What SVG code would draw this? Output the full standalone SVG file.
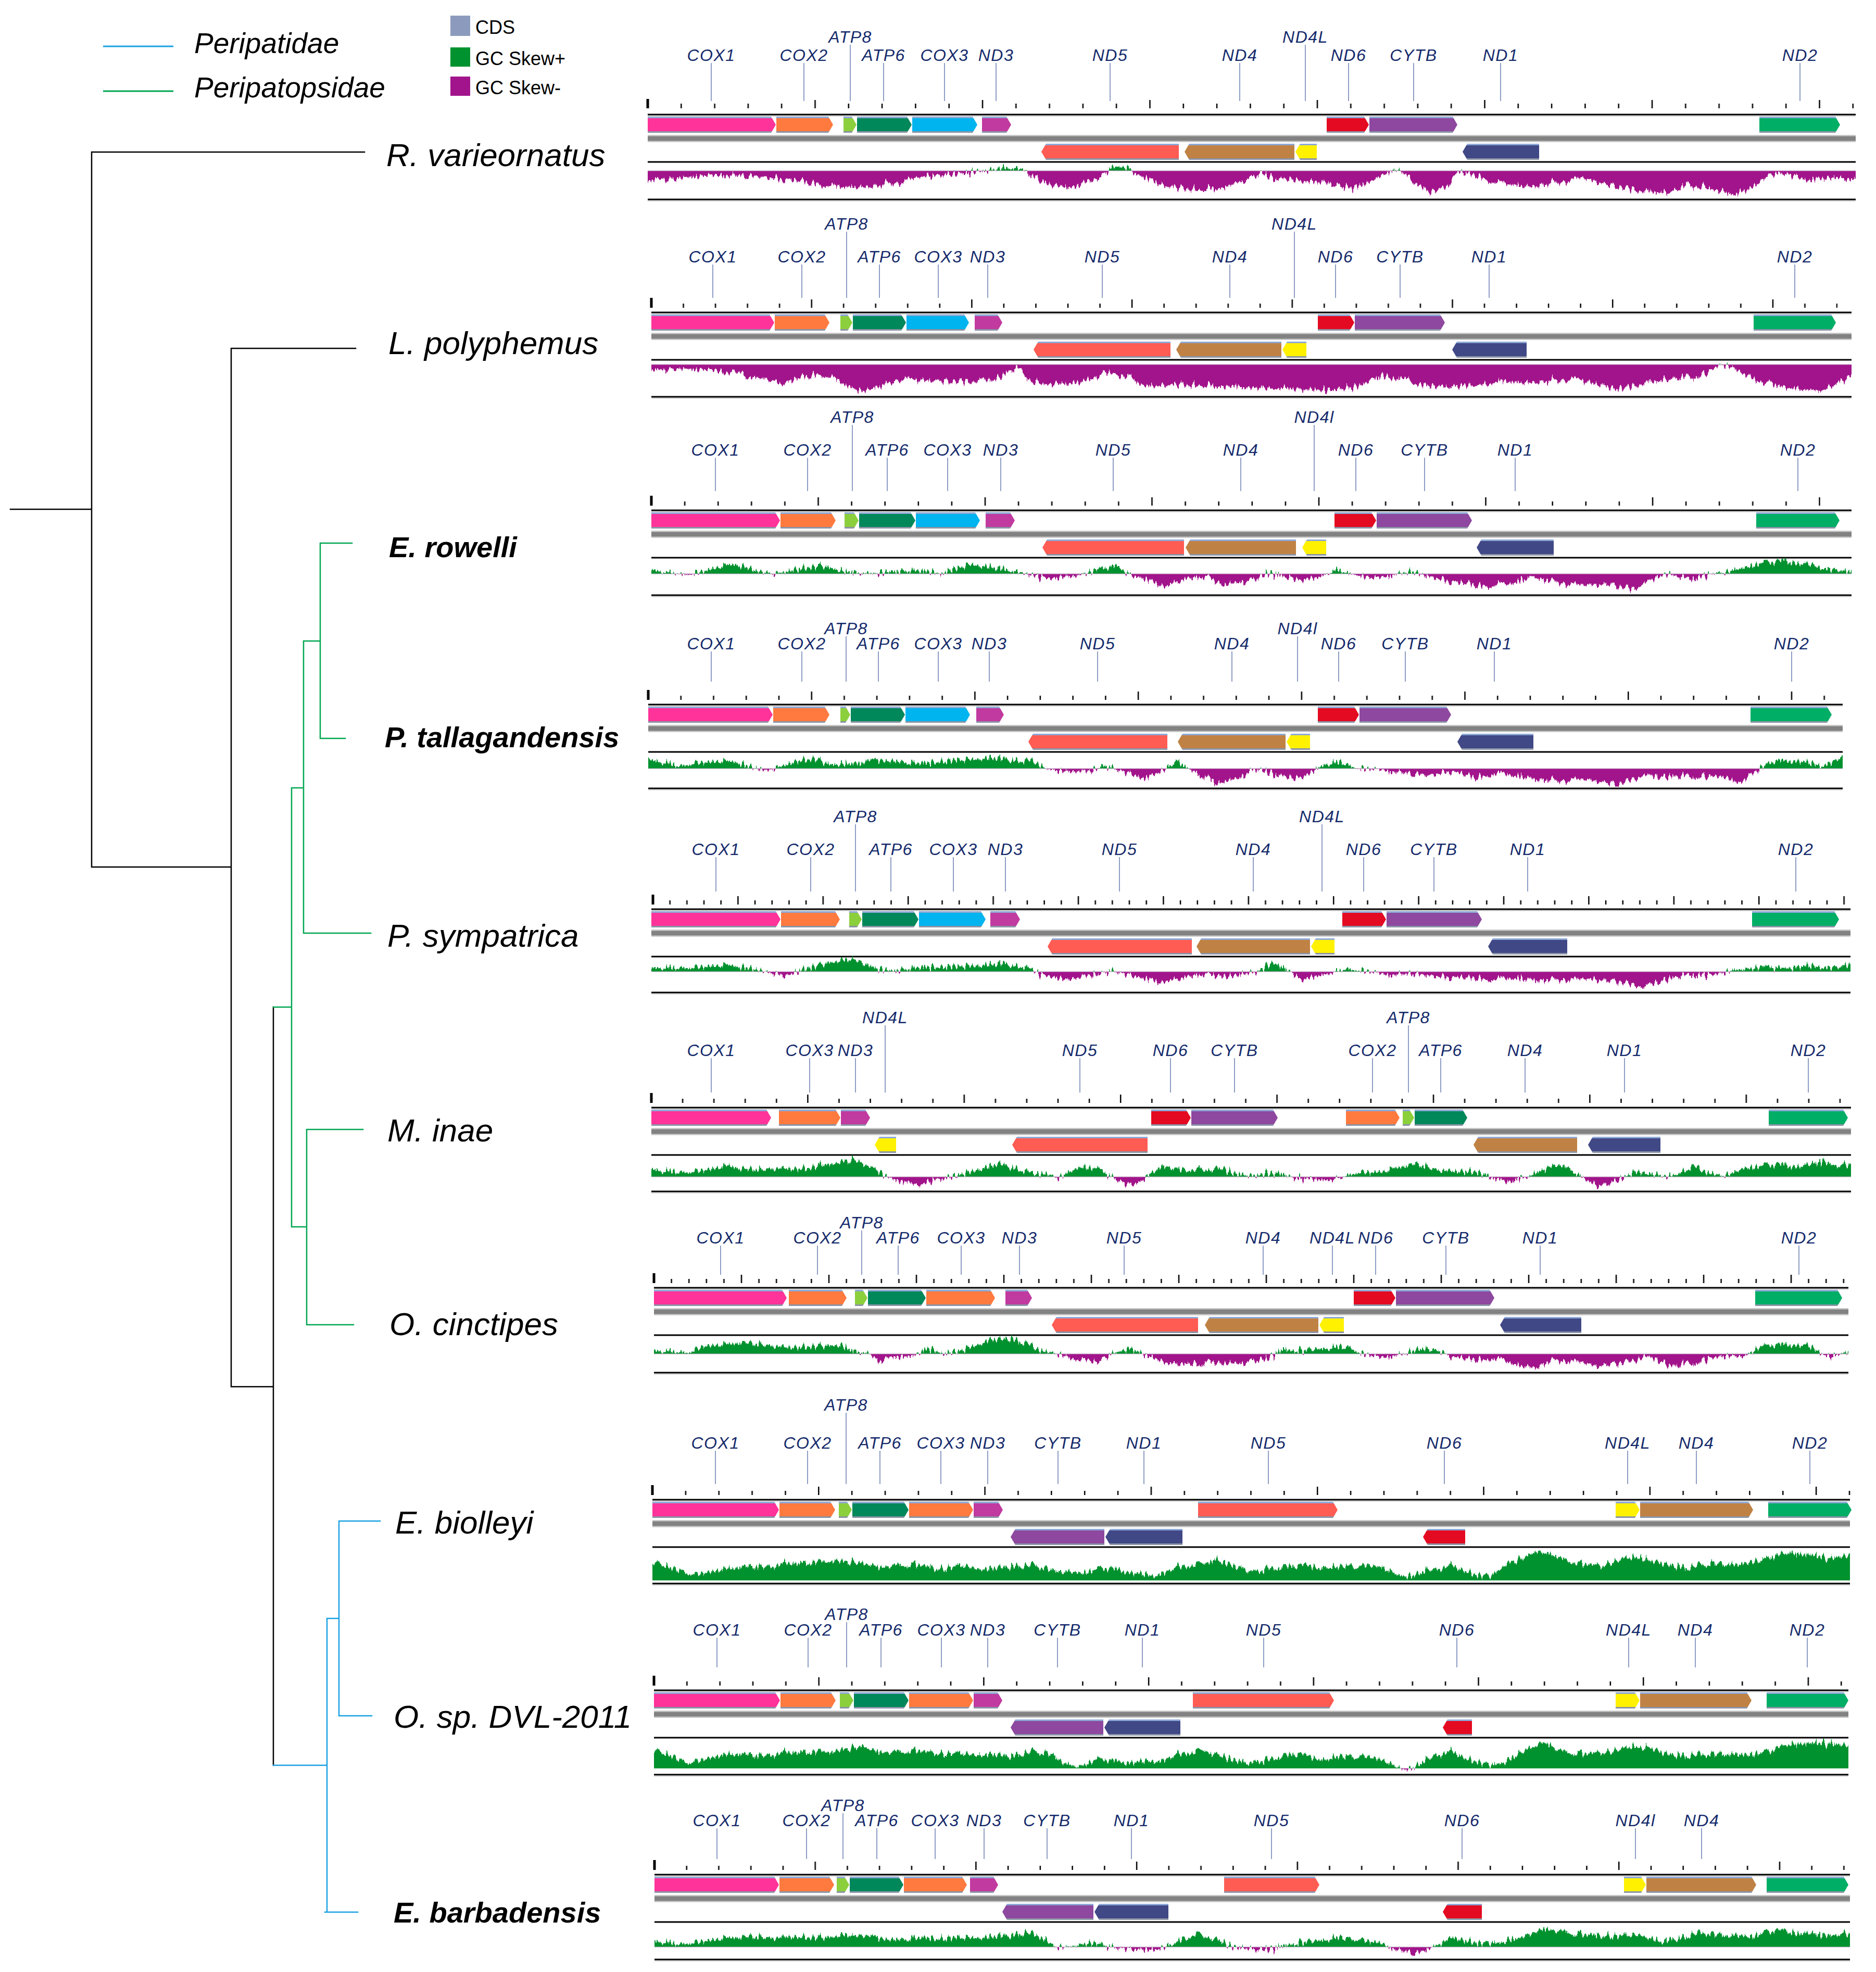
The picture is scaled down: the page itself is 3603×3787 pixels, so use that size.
<svg xmlns="http://www.w3.org/2000/svg" width="3603" height="3787" viewBox="0 0 3603 3787">
<style>
.gl{font-family:"Liberation Sans",Arial,sans-serif;font-style:italic;font-size:32px;fill:#142A6B;text-anchor:middle;letter-spacing:1.5px}
.sp{font-family:"Liberation Sans",Arial,sans-serif;font-style:italic;font-size:62px;fill:#000}
.spb{font-weight:bold;font-size:56px}
.lg{font-family:"Liberation Sans",Arial,sans-serif;font-size:36px;fill:#000}
.lgi{font-style:italic;font-size:55px}
.ll{fill:none;stroke:#8E9DC4;stroke-width:2}
.bk{fill:none;stroke:#000;stroke-width:3}
.gy{fill:none;stroke:#C8C8C8;stroke-width:1.5}
.bl{fill:none;stroke:#BFA6BF;stroke-width:1}
.lb{fill:#CACACA}.db{fill:#828282}
.pu{fill:#A2148B}
.c1{fill:url(#gC1)}.c2{fill:url(#gC2)}.a8{fill:url(#gA8)}.a6{fill:url(#gA6)}.c3{fill:url(#gC3)}.n3{fill:url(#gN3)}.n5{fill:url(#gN5)}.n4{fill:url(#gN4)}.nl{fill:url(#gNL)}.n6{fill:url(#gN6)}.cb{fill:url(#gCB)}.n1{fill:url(#gN1)}.n2{fill:url(#gN2)}
</style>
<defs>
<linearGradient id="gC1" x2="0" y2="1"><stop offset=".1" stop-color="#8EA9D7"/><stop offset=".1" stop-color="#FF3399"/><stop offset=".9" stop-color="#FF3399"/><stop offset=".9" stop-color="#8B94A6"/></linearGradient>
<linearGradient id="gC2" x2="0" y2="1"><stop offset=".1" stop-color="#8EA9D7"/><stop offset=".1" stop-color="#FF7A3F"/><stop offset=".9" stop-color="#FF7A3F"/><stop offset=".9" stop-color="#8B94A6"/></linearGradient>
<linearGradient id="gA8" x2="0" y2="1"><stop offset=".1" stop-color="#8EA9D7"/><stop offset=".1" stop-color="#8CCF3C"/><stop offset=".9" stop-color="#8CCF3C"/><stop offset=".9" stop-color="#8B94A6"/></linearGradient>
<linearGradient id="gA6" x2="0" y2="1"><stop offset=".1" stop-color="#8EA9D7"/><stop offset=".1" stop-color="#00875A"/><stop offset=".9" stop-color="#00875A"/><stop offset=".9" stop-color="#8B94A6"/></linearGradient>
<linearGradient id="gC3" x2="0" y2="1"><stop offset=".1" stop-color="#8EA9D7"/><stop offset=".1" stop-color="#00B4EF"/><stop offset=".9" stop-color="#00B4EF"/><stop offset=".9" stop-color="#8B94A6"/></linearGradient>
<linearGradient id="gN3" x2="0" y2="1"><stop offset=".1" stop-color="#8EA9D7"/><stop offset=".1" stop-color="#C13A9F"/><stop offset=".9" stop-color="#C13A9F"/><stop offset=".9" stop-color="#8B94A6"/></linearGradient>
<linearGradient id="gN5" x2="0" y2="1"><stop offset=".1" stop-color="#8EA9D7"/><stop offset=".1" stop-color="#FF5C54"/><stop offset=".9" stop-color="#FF5C54"/><stop offset=".9" stop-color="#8B94A6"/></linearGradient>
<linearGradient id="gN4" x2="0" y2="1"><stop offset=".1" stop-color="#8EA9D7"/><stop offset=".1" stop-color="#C08244"/><stop offset=".9" stop-color="#C08244"/><stop offset=".9" stop-color="#8B94A6"/></linearGradient>
<linearGradient id="gNL" x2="0" y2="1"><stop offset=".1" stop-color="#8EA9D7"/><stop offset=".1" stop-color="#FFF100"/><stop offset=".9" stop-color="#FFF100"/><stop offset=".9" stop-color="#8B94A6"/></linearGradient>
<linearGradient id="gN6" x2="0" y2="1"><stop offset=".1" stop-color="#8EA9D7"/><stop offset=".1" stop-color="#E30A21"/><stop offset=".9" stop-color="#E30A21"/><stop offset=".9" stop-color="#8B94A6"/></linearGradient>
<linearGradient id="gCB" x2="0" y2="1"><stop offset=".1" stop-color="#8EA9D7"/><stop offset=".1" stop-color="#8E489F"/><stop offset=".9" stop-color="#8E489F"/><stop offset=".9" stop-color="#8B94A6"/></linearGradient>
<linearGradient id="gN1" x2="0" y2="1"><stop offset=".1" stop-color="#8EA9D7"/><stop offset=".1" stop-color="#414886"/><stop offset=".9" stop-color="#414886"/><stop offset=".9" stop-color="#8B94A6"/></linearGradient>
<linearGradient id="gN2" x2="0" y2="1"><stop offset=".1" stop-color="#8EA9D7"/><stop offset=".1" stop-color="#00AE66"/><stop offset=".9" stop-color="#00AE66"/><stop offset=".9" stop-color="#8B94A6"/></linearGradient>
<clipPath id="ca"><rect x="0" y="-300" width="3603" height="300"/></clipPath>
<clipPath id="cb"><rect x="0" y="0" width="3603" height="64"/></clipPath>
<filter id="jag" x="-0.02" y="-0.4" width="1.04" height="1.8" color-interpolation-filters="sRGB">
<feTurbulence type="fractalNoise" baseFrequency="0.2 0.02" numOctaves="3" seed="7" result="n"/>
<feColorMatrix in="n" type="matrix" values="0 0 0 0 0.5  0 1 0 0 0  0 0 0 0 0  0 0 0 0 1" result="m"/>
<feDisplacementMap in="SourceGraphic" in2="m" scale="28" xChannelSelector="R" yChannelSelector="G"/>
</filter>
<pattern id="r1" patternUnits="userSpaceOnUse" x="1242.75" y="192" width="321.5" height="16"><path d="M1.25,0V16M65.55,7V16M129.85,7V16M194.15,7V16M258.45,7V16" stroke="#000" stroke-width="2.5"/></pattern>
<pattern id="r2" patternUnits="userSpaceOnUse" x="1249.75" y="575" width="307.7" height="16"><path d="M1.25,0V16M62.79,8V16M124.33,8V16M185.87,8V16M247.41,8V16" stroke="#000" stroke-width="2.5"/></pattern>
<pattern id="r3" patternUnits="userSpaceOnUse" x="1249.75" y="955" width="320.5" height="16"><path d="M1.25,0V16M65.35,8V16M129.45,8V16M193.55,8V16M257.65,8V16" stroke="#000" stroke-width="2.5"/></pattern>
<pattern id="r4" patternUnits="userSpaceOnUse" x="1243.75" y="1328" width="313.7" height="16"><path d="M1.25,0V16M63.99,8V16M126.73,8V16M189.47,8V16M252.21,8V16" stroke="#000" stroke-width="2.5"/></pattern>
<pattern id="r5" patternUnits="userSpaceOnUse" x="1252.75" y="1721" width="163.4" height="16"><path d="M1.25,0V16M33.93,8V16M66.61,8V16M99.29,8V16M131.97,8V16" stroke="#000" stroke-width="2.5"/></pattern>
<pattern id="r6" patternUnits="userSpaceOnUse" x="1249.75" y="2102" width="300.4" height="16"><path d="M1.25,0V16M61.33,8V16M121.41,8V16M181.49,8V16M241.57,8V16" stroke="#000" stroke-width="2.5"/></pattern>
<pattern id="r7" patternUnits="userSpaceOnUse" x="1254.75" y="2448" width="168" height="16"><path d="M1.25,0V16M34.85,8V16M68.45,8V16M102.05,8V16M135.65,8V16" stroke="#000" stroke-width="2.5"/></pattern>
<pattern id="r8" patternUnits="userSpaceOnUse" x="1251.75" y="2855" width="319.3" height="16"><path d="M1.25,0V16M65.11,8V16M128.97,8V16M192.83,8V16M256.69,8V16" stroke="#000" stroke-width="2.5"/></pattern>
<pattern id="r9" patternUnits="userSpaceOnUse" x="1254.75" y="3221" width="316.7" height="16"><path d="M1.25,0V16M64.59,8V16M127.93,8V16M191.27,8V16M254.61,8V16" stroke="#000" stroke-width="2.5"/></pattern>
<pattern id="r10" patternUnits="userSpaceOnUse" x="1255.75" y="3575" width="308.7" height="16"><path d="M1.25,0V16M62.99,8V16M124.73,8V16M186.47,8V16M248.21,8V16" stroke="#000" stroke-width="2.5"/></pattern>
<path id="s1" d="M1244,22 L1261,17 1307,17 1337,13 1383,8 1460,12 1521,18 1574,27 1605,33 1636,30 1689,27 1727,23 1766,12 1811,7 1842,5 1896,0 1915,-4 1934,-6 1955,-5 1968,-3 1976,5 1995,17 2033,32 2064,32 2095,18 2121,5 2135,-5 2148,-7 2165,-8 2179,4 2209,18 2248,32 2286,35 2324,35 2362,28 2401,15 2423,3 2446,12 2492,18 2553,25 2599,35 2630,25 2661,5 2676,-2 2692,2 2722,25 2745,45 2776,32 2799,2 2830,8 2876,25 2937,28 2998,22 3037,13 3091,28 3152,40 3206,42 3244,25 3282,32 3328,47 3367,32 3390,8 3428,5 3474,18 3520,13 3564,17 L3564,70 1244,70Z"/>
<path id="s2" d="M1251,12 L1291,10 1366,12 1412,15 1457,29 1502,36 1548,24 1578,19 1623,39 1654,52 1684,44 1729,29 1805,32 1866,34 1911,29 1941,12 1956,7 1987,34 2032,39 2077,34 2123,15 2168,24 2199,41 2289,39 2380,44 2471,46 2547,50 2607,44 2652,22 2698,29 2743,44 2819,41 2895,34 2970,32 3031,29 3107,48 3152,39 3197,29 3273,19 3306,-1 3333,10 3379,34 3455,48 3500,50 3545,29 3556,20 L3556,70 1251,70Z"/>
<path id="s3" d="M1251,-9 L1275,-4 1321,3 1381,-14 1412,-19 1457,-4 1487,0 1533,-9 1578,-16 1623,-4 1669,0 1714,-4 1760,-7 1805,0 1835,-9 1866,-19 1911,-12 1956,-4 2017,10 2062,5 2108,-7 2146,-14 2168,0 2214,15 2236,25 2274,10 2320,5 2350,20 2395,15 2441,-2 2486,10 2531,8 2569,-9 2592,0 2637,10 2683,0 2713,-4 2743,5 2789,15 2849,25 2895,20 2940,5 2985,15 3031,22 3091,20 3137,30 3167,15 3197,0 3243,10 3288,0 3318,-4 3379,-19 3424,-24 3470,-19 3515,-9 3556,-4 L3556,70 1251,70Z"/>
<path id="s4" d="M1245,-20 L1275,-13 1306,-5 1336,-13 1381,-15 1412,-13 1442,-3 1472,4 1502,-5 1533,-15 1563,-20 1593,-8 1623,-8 1654,-10 1684,-15 1729,-13 1775,-10 1835,-15 1896,-22 1941,-17 1987,-13 2009,0 2047,7 2093,4 2123,-5 2153,4 2199,19 2229,7 2259,-13 2289,4 2335,26 2380,19 2410,0 2441,7 2486,19 2516,9 2547,-10 2577,-13 2607,0 2652,2 2698,9 2743,14 2789,4 2834,19 2880,9 2925,14 2985,24 3046,21 3107,31 3152,14 3197,16 3258,14 3303,16 3341,29 3379,0 3409,-13 3455,-15 3500,-5 3539,-22 L3539,70 1245,70Z"/>
<path id="s5" d="M1251,-8 L1306,-8 1351,-11 1396,-13 1442,-6 1487,4 1518,6 1548,-6 1593,-18 1639,-23 1669,-8 1714,-1 1760,-8 1805,-8 1866,-11 1926,-16 1972,-8 2002,6 2047,18 2093,6 2138,-1 2183,9 2229,21 2274,11 2320,4 2365,9 2410,1 2448,-16 2471,-3 2501,14 2547,6 2584,-6 2622,-1 2668,6 2713,4 2758,9 2804,11 2864,16 2910,11 2970,16 3046,14 3107,18 3159,31 3197,16 3243,6 3288,6 3333,-3 3379,-8 3424,-6 3470,-11 3515,-8 3554,-11 L3554,70 1251,70Z"/>
<path id="s6" d="M1251,-17 L1276,-12 1307,-10 1337,-13 1368,-17 1398,-22 1429,-15 1460,-13 1490,-17 1521,-15 1551,-17 1582,-23 1613,-28 1643,-32 1666,-17 1689,-10 1701,0 1727,7 1766,17 1796,5 1827,0 1857,-7 1888,-18 1919,-25 1949,-17 1980,-7 2010,-5 2033,2 2056,-10 2079,-20 2110,-13 2140,3 2171,17 2194,7 2217,-13 2232,-23 2263,-12 2301,-13 2339,-15 2378,-5 2400,-2 2431,-5 2454,-7 2484,2 2515,3 2546,8 2576,2 2607,-10 2653,-10 2692,-20 2722,-25 2761,-13 2799,-10 2837,-10 2860,0 2891,10 2922,2 2952,-5 2983,-23 3014,-17 3037,0 3067,17 3098,10 3121,0 3144,-10 3175,-5 3206,0 3229,-10 3252,-20 3282,-7 3305,-2 3328,-7 3351,-17 3382,-20 3413,-23 3443,-20 3474,-23 3505,-32 3528,-20 3555,-20 L3555,70 1251,70Z"/>
<path id="s7" d="M1256,-7 L1291,-5 1321,-2 1351,-17 1396,-19 1427,-22 1472,-17 1518,-12 1563,-15 1608,-17 1639,-5 1669,0 1692,15 1714,5 1752,5 1782,-10 1813,0 1850,-7 1896,-27 1941,-29 1972,-19 2002,-5 2032,0 2062,12 2108,12 2138,0 2168,-12 2199,2 2244,19 2289,19 2335,15 2380,19 2426,10 2463,-7 2501,-5 2547,-12 2592,-15 2615,0 2652,7 2698,0 2728,-10 2766,-5 2789,5 2834,12 2880,10 2910,19 2948,24 2985,12 3031,15 3069,24 3122,15 3167,5 3212,24 3258,15 3303,5 3349,5 3379,-12 3424,-17 3470,-17 3500,0 3515,7 3550,-5 L3550,70 1256,70Z"/>
<path id="s8" d="M1253,-38 L1291,-23 1336,-14 1381,-21 1427,-26 1472,-28 1518,-33 1563,-35 1608,-38 1654,-33 1684,-23 1714,-28 1760,-31 1805,-21 1850,-28 1896,-23 1941,-26 1987,-28 2032,-18 2077,-14 2123,-23 2168,-16 2214,-9 2259,-23 2304,-33 2335,-40 2365,-28 2410,-18 2441,-21 2486,-28 2531,-26 2577,-26 2622,-33 2652,-28 2683,-10 2713,-8 2743,-21 2789,-28 2834,-11 2864,-9 2895,-33 2925,-43 2955,-57 2985,-47 3031,-33 3076,-28 3122,-43 3152,-45 3197,-31 3243,-23 3288,-33 3333,-28 3379,-38 3424,-52 3470,-50 3515,-43 3553,-48 L3553,70 1253,70Z"/>
<path id="s9" d="M1256,-37 L1291,-23 1321,-13 1366,-23 1412,-28 1457,-25 1502,-30 1548,-32 1593,-32 1639,-40 1661,-42 1684,-30 1729,-32 1760,-35 1805,-28 1850,-28 1896,-28 1941,-23 1987,-32 2017,-28 2047,-9 2070,-3 2108,-16 2168,-11 2229,-16 2274,-28 2312,-37 2350,-20 2395,-11 2441,-16 2486,-28 2531,-18 2577,-23 2622,-28 2660,-16 2683,-1 2706,3 2728,-9 2758,-28 2789,-32 2819,-18 2864,-6 2895,-13 2925,-32 2963,-51 3001,-32 3046,-28 3091,-32 3137,-42 3167,-42 3197,-28 3243,-23 3288,-28 3349,-25 3394,-32 3439,-47 3500,-49 3550,-44 L3550,70 1256,70Z"/>
<path id="s10" d="M1257,-13 L1306,-6 1351,-13 1396,-18 1442,-20 1487,-18 1533,-20 1578,-18 1623,-22 1669,-18 1714,-13 1760,-18 1805,-15 1850,-18 1896,-20 1941,-22 1972,-27 2002,-18 2025,-1 2047,1 2093,-8 2138,1 2183,4 2221,6 2259,-8 2297,-25 2327,-18 2357,-3 2395,4 2433,4 2471,-3 2516,-10 2562,-18 2607,-18 2652,-8 2683,6 2721,13 2751,1 2789,-18 2834,-8 2880,-8 2925,-18 2970,-34 3016,-27 3061,-22 3107,-20 3152,-25 3190,-10 3228,-18 3273,-27 3318,-22 3364,-20 3409,-32 3455,-27 3500,-25 3553,-22 L3553,70 1257,70Z"/>
</defs>
<rect width="3603" height="3787" fill="#fff"/>

<g id="legend">
<path d="M198,89H333" stroke="#1BA1E2" stroke-width="3"/>
<path d="M198,175H333" stroke="#00A651" stroke-width="3"/>
<text class="lg lgi" x="373" y="102">Peripatidae</text>
<text class="lg lgi" x="373" y="187">Peripatopsidae</text>
<rect x="865" y="30" width="38" height="39" fill="#8C9BBD"/>
<rect x="865" y="91" width="38" height="37" fill="#00922F"/>
<rect x="865" y="147" width="38" height="37" fill="#A2148B"/>
<text class="lg" x="913" y="65">CDS</text>
<text class="lg" x="913" y="125">GC Skew+</text>
<text class="lg" x="913" y="181">GC Skew-</text>
</g>

<g id="tree" fill="none" stroke-width="2.5" stroke-linecap="square">
<path stroke="#000" d="M20,978H176M176,292V1665M176,292H700M176,1665H444M444,669V2663M444,669H683M444,2663H525M525,1934V3390"/>
<path stroke="#00A651" d="M525,1934H560M560,1513V2356M560,1513H583M583,1231V1792M583,1231H615M615,1043V1418M615,1043H676M615,1418H663M583,1792H712M560,2356H589M589,2169V2544M589,2169H697M589,2544H679"/>
<path stroke="#1BA1E2" d="M525,3390H628M628,3108V3672M628,3108H651M651,2921V3295M651,2921H730M651,3295H714M624,3672H687"/>
</g>

<g id="n-rvarieornatus">
<text class="sp" x="742" y="319">R. varieornatus</text>
<g>
<text class="gl" x="1366" y="117">COX1</text><text class="gl" x="1544" y="117">COX2</text><text class="gl" x="1633" y="82">ATP8</text><text class="gl" x="1697" y="117">ATP6</text><text class="gl" x="1814" y="117">COX3</text><text class="gl" x="1913" y="117">ND3</text><text class="gl" x="2132" y="117">ND5</text><text class="gl" x="2381" y="117">ND4</text><text class="gl" x="2507" y="82">ND4L</text><text class="gl" x="2590" y="117">ND6</text><text class="gl" x="2715" y="117">CYTB</text><text class="gl" x="2882" y="117">ND1</text><text class="gl" x="3457" y="117">ND2</text>
</g>
<path class="ll" d="M1366,121V194M1544,121V194M1633,86V194M1697,121V194M1814,121V194M1913,121V194M2132,121V194M2381,121V194M2507,86V194M2590,121V194M2715,121V194M2882,121V194M3457,121V194"/>
<rect x="1242.75" y="192" width="2317.5" height="16" fill="url(#r1)"/>
<rect x="1241.5" y="190" width="5" height="18"/>
<g transform="translate(0,220)">
<path class="bk" d="M1244,0H3564"/><path class="gy" d="M1244,2.8H3564"/>
<rect class="lb" x="1244" y="39" width="2320" height="14"/><rect class="db" x="1244" y="41.5" width="2320" height="9"/>
<polygon class="c1" points="1244,4 1481,4 1490,19.5 1481,35 1244,35"/>
<polygon class="c2" points="1491,4 1591,4 1600,19.5 1591,35 1491,35"/>
<polygon class="a8" points="1620,4 1636,4 1645,19.5 1636,35 1620,35"/>
<polygon class="a6" points="1646,4 1742,4 1751,19.5 1742,35 1646,35"/>
<polygon class="c3" points="1752,4 1868,4 1877,19.5 1868,35 1752,35"/>
<polygon class="n3" points="1886,4 1933,4 1942,19.5 1933,35 1886,35"/>
<polygon class="n5" points="2000,71.5 2009,56 2264,56 2264,87 2009,87"/>
<polygon class="n4" points="2275,71.5 2284,56 2486,56 2486,87 2284,87"/>
<polygon class="nl" points="2488,71.5 2497,56 2529,56 2529,87 2497,87"/>
<polygon class="n6" points="2548,4 2620,4 2629,19.5 2620,35 2548,35"/>
<polygon class="cb" points="2630,4 2790,4 2799,19.5 2790,35 2630,35"/>
<polygon class="n1" points="2809,71.5 2818,56 2956,56 2956,87 2818,87"/>
<polygon class="n2" points="3379,4 3525,4 3534,19.5 3525,35 3379,35"/>
<path class="bk" d="M1244,91H3564"/>
</g>
<g transform="translate(0,328)">
<rect class="pu" x="1244" y="0" width="2320" height="52"/>
<use href="#s1" fill="#fff" filter="url(#jag)" clip-path="url(#cb)"/>
<use href="#s1" fill="#00922F" filter="url(#jag)" clip-path="url(#ca)"/>
<path class="bl" d="M1244,0H3564"/>
<path class="bk" d="M1244,55H3564"/><path class="gy" d="M1244,57.8H3564"/>
</g>
</g>

<g id="n-lpolyphemus">
<text class="sp" x="746" y="680">L. polyphemus</text>
<g>
<text class="gl" x="1369" y="504">COX1</text><text class="gl" x="1540" y="504">COX2</text><text class="gl" x="1626" y="441">ATP8</text><text class="gl" x="1689" y="504">ATP6</text><text class="gl" x="1802" y="504">COX3</text><text class="gl" x="1897" y="504">ND3</text><text class="gl" x="2117" y="504">ND5</text><text class="gl" x="2362" y="504">ND4</text><text class="gl" x="2486" y="441">ND4L</text><text class="gl" x="2565" y="504">ND6</text><text class="gl" x="2689" y="504">CYTB</text><text class="gl" x="2860" y="504">ND1</text><text class="gl" x="3447" y="504">ND2</text>
</g>
<path class="ll" d="M1369,508V572M1540,508V572M1626,445V572M1689,508V572M1802,508V572M1897,508V572M2117,508V572M2362,508V572M2486,445V572M2565,508V572M2689,508V572M2860,508V572M3447,508V572"/>
<rect x="1249.75" y="575" width="2279.5" height="16" fill="url(#r2)"/>
<rect x="1248.5" y="572" width="5" height="19"/>
<g transform="translate(0,600)">
<path class="bk" d="M1251,0H3556"/><path class="gy" d="M1251,2.8H3556"/>
<rect class="lb" x="1251" y="39" width="2305" height="14"/><rect class="db" x="1251" y="41.5" width="2305" height="9"/>
<polygon class="c1" points="1251,4 1478,4 1487,19.5 1478,35 1251,35"/>
<polygon class="c2" points="1488,4 1584,4 1593,19.5 1584,35 1488,35"/>
<polygon class="a8" points="1614,4 1628,4 1637,19.5 1628,35 1614,35"/>
<polygon class="a6" points="1638,4 1731,4 1740,19.5 1731,35 1638,35"/>
<polygon class="c3" points="1741,4 1852,4 1861,19.5 1852,35 1741,35"/>
<polygon class="n3" points="1872,4 1916,4 1925,19.5 1916,35 1872,35"/>
<polygon class="n5" points="1985,71.5 1994,56 2248,56 2248,87 1994,87"/>
<polygon class="n4" points="2259,71.5 2268,56 2461,56 2461,87 2268,87"/>
<polygon class="nl" points="2463,71.5 2472,56 2509,56 2509,87 2472,87"/>
<polygon class="n6" points="2531,4 2592,4 2601,19.5 2592,35 2531,35"/>
<polygon class="cb" points="2602,4 2766,4 2775,19.5 2766,35 2602,35"/>
<polygon class="n1" points="2789,71.5 2798,56 2932,56 2932,87 2798,87"/>
<polygon class="n2" points="3368,4 3517,4 3526,19.5 3517,35 3368,35"/>
<path class="bk" d="M1251,91H3556"/>
</g>
<g transform="translate(0,700)">
<rect class="pu" x="1251" y="0" width="2305" height="59"/>
<use href="#s2" fill="#fff" filter="url(#jag)" clip-path="url(#cb)"/>
<use href="#s2" fill="#00922F" filter="url(#jag)" clip-path="url(#ca)"/>
<path class="bl" d="M1251,0H3556"/>
<path class="bk" d="M1251,62H3556"/><path class="gy" d="M1251,64.8H3556"/>
</g>
</g>

<g id="n-erowelli">
<text class="sp spb" x="747" y="1070">E. rowelli</text>
<g>
<text class="gl" x="1374" y="875">COX1</text><text class="gl" x="1551" y="875">COX2</text><text class="gl" x="1637" y="812">ATP8</text><text class="gl" x="1704" y="875">ATP6</text><text class="gl" x="1820" y="875">COX3</text><text class="gl" x="1922" y="875">ND3</text><text class="gl" x="2138" y="875">ND5</text><text class="gl" x="2383" y="875">ND4</text><text class="gl" x="2524" y="812">ND4l</text><text class="gl" x="2604" y="875">ND6</text><text class="gl" x="2736" y="875">CYTB</text><text class="gl" x="2910" y="875">ND1</text><text class="gl" x="3453" y="875">ND2</text>
</g>
<path class="ll" d="M1374,879V943M1551,879V943M1637,816V943M1704,879V943M1820,879V943M1922,879V943M2138,879V943M2383,879V943M2524,816V943M2604,879V943M2736,879V943M2910,879V943M3453,879V943"/>
<rect x="1249.75" y="955" width="2246.5" height="16" fill="url(#r3)"/>
<rect x="1248.5" y="952" width="5" height="19"/>
<g transform="translate(0,980)">
<path class="bk" d="M1251,0H3556"/><path class="gy" d="M1251,2.8H3556"/>
<rect class="lb" x="1251" y="39" width="2305" height="14"/><rect class="db" x="1251" y="41.5" width="2305" height="9"/>
<polygon class="c1" points="1251,4 1489,4 1498,19.5 1489,35 1251,35"/>
<polygon class="c2" points="1499,4 1596,4 1605,19.5 1596,35 1499,35"/>
<polygon class="a8" points="1622,4 1640,4 1649,19.5 1640,35 1622,35"/>
<polygon class="a6" points="1650,4 1749,4 1758,19.5 1749,35 1650,35"/>
<polygon class="c3" points="1759,4 1873,4 1882,19.5 1873,35 1759,35"/>
<polygon class="n3" points="1893,4 1940,4 1949,19.5 1940,35 1893,35"/>
<polygon class="n5" points="2002,71.5 2011,56 2274,56 2274,87 2011,87"/>
<polygon class="n4" points="2277,71.5 2286,56 2489,56 2489,87 2286,87"/>
<polygon class="nl" points="2501,71.5 2510,56 2547,56 2547,87 2510,87"/>
<polygon class="n6" points="2563,4 2634,4 2643,19.5 2634,35 2563,35"/>
<polygon class="cb" points="2644,4 2818,4 2827,19.5 2818,35 2644,35"/>
<polygon class="n1" points="2836,71.5 2845,56 2984,56 2984,87 2845,87"/>
<polygon class="n2" points="3373,4 3524,4 3533,19.5 3524,35 3373,35"/>
<path class="bk" d="M1251,91H3556"/>
</g>
<g transform="translate(0,1102)">
<rect class="pu" x="1251" y="0" width="2305" height="38"/>
<use href="#s3" fill="#fff" filter="url(#jag)" clip-path="url(#cb)"/>
<use href="#s3" fill="#00922F" filter="url(#jag)" clip-path="url(#ca)"/>
<path class="bl" d="M1251,0H3556"/>
<path class="bk" d="M1251,41H3556"/><path class="gy" d="M1251,43.8H3556"/>
</g>
</g>

<g id="n-ptallagandensis">
<text class="sp spb" x="739" y="1435">P. tallagandensis</text>
<g>
<text class="gl" x="1366" y="1247">COX1</text><text class="gl" x="1540" y="1247">COX2</text><text class="gl" x="1625" y="1218">ATP8</text><text class="gl" x="1687" y="1247">ATP6</text><text class="gl" x="1802" y="1247">COX3</text><text class="gl" x="1900" y="1247">ND3</text><text class="gl" x="2108" y="1247">ND5</text><text class="gl" x="2366" y="1247">ND4</text><text class="gl" x="2492" y="1218">ND4l</text><text class="gl" x="2571" y="1247">ND6</text><text class="gl" x="2699" y="1247">CYTB</text><text class="gl" x="2870" y="1247">ND1</text><text class="gl" x="3441" y="1247">ND2</text>
</g>
<path class="ll" d="M1366,1251V1309M1540,1251V1309M1625,1222V1309M1687,1251V1309M1802,1251V1309M1900,1251V1309M2108,1251V1309M2366,1251V1309M2492,1222V1309M2571,1251V1309M2699,1251V1309M2870,1251V1309M3441,1251V1309"/>
<rect x="1243.75" y="1328" width="2264.5" height="16" fill="url(#r4)"/>
<rect x="1242.5" y="1325" width="5" height="19"/>
<g transform="translate(0,1353)">
<path class="bk" d="M1245,0H3539"/><path class="gy" d="M1245,2.8H3539"/>
<rect class="lb" x="1245" y="39" width="2294" height="14"/><rect class="db" x="1245" y="41.5" width="2294" height="9"/>
<polygon class="c1" points="1245,4 1475,4 1484,19.5 1475,35 1245,35"/>
<polygon class="c2" points="1485,4 1584,4 1593,19.5 1584,35 1485,35"/>
<polygon class="a8" points="1614,4 1624,4 1633,19.5 1624,35 1614,35"/>
<polygon class="a6" points="1634,4 1729,4 1738,19.5 1729,35 1634,35"/>
<polygon class="c3" points="1739,4 1854,4 1863,19.5 1854,35 1739,35"/>
<polygon class="n3" points="1875,4 1919,4 1928,19.5 1919,35 1875,35"/>
<polygon class="n5" points="1975,71.5 1984,56 2242,56 2242,87 1984,87"/>
<polygon class="n4" points="2262,71.5 2271,56 2469,56 2469,87 2271,87"/>
<polygon class="nl" points="2471,71.5 2480,56 2516,56 2516,87 2480,87"/>
<polygon class="n6" points="2531,4 2601,4 2610,19.5 2601,35 2531,35"/>
<polygon class="cb" points="2611,4 2778,4 2787,19.5 2778,35 2611,35"/>
<polygon class="n1" points="2799,71.5 2808,56 2945,56 2945,87 2808,87"/>
<polygon class="n2" points="3362,4 3509,4 3518,19.5 3509,35 3362,35"/>
<path class="bk" d="M1245,91H3539"/>
</g>
<g transform="translate(0,1476)">
<rect class="pu" x="1245" y="0" width="2294" height="35"/>
<use href="#s4" fill="#fff" filter="url(#jag)" clip-path="url(#cb)"/>
<use href="#s4" fill="#00922F" filter="url(#jag)" clip-path="url(#ca)"/>
<path class="bl" d="M1245,0H3539"/>
<path class="bk" d="M1245,38H3539"/><path class="gy" d="M1245,40.8H3539"/>
</g>
</g>

<g id="n-psympatrica">
<text class="sp" x="744" y="1818">P. sympatrica</text>
<g>
<text class="gl" x="1375" y="1642">COX1</text><text class="gl" x="1557" y="1642">COX2</text><text class="gl" x="1643" y="1579">ATP8</text><text class="gl" x="1711" y="1642">ATP6</text><text class="gl" x="1831" y="1642">COX3</text><text class="gl" x="1931" y="1642">ND3</text><text class="gl" x="2150" y="1642">ND5</text><text class="gl" x="2407" y="1642">ND4</text><text class="gl" x="2539" y="1579">ND4L</text><text class="gl" x="2619" y="1642">ND6</text><text class="gl" x="2754" y="1642">CYTB</text><text class="gl" x="2934" y="1642">ND1</text><text class="gl" x="3449" y="1642">ND2</text>
</g>
<path class="ll" d="M1375,1646V1712M1557,1646V1712M1643,1583V1712M1711,1646V1712M1831,1646V1712M1931,1646V1712M2150,1646V1712M2407,1646V1712M2539,1583V1712M2619,1646V1712M2754,1646V1712M2934,1646V1712M3449,1646V1712"/>
<rect x="1252.75" y="1721" width="2291.5" height="16" fill="url(#r5)"/>
<rect x="1251.5" y="1718" width="5" height="19"/>
<g transform="translate(0,1746)">
<path class="bk" d="M1251,0H3554"/><path class="gy" d="M1251,2.8H3554"/>
<rect class="lb" x="1251" y="39" width="2303" height="14"/><rect class="db" x="1251" y="41.5" width="2303" height="9"/>
<polygon class="c1" points="1251,4 1490,4 1499,19.5 1490,35 1251,35"/>
<polygon class="c2" points="1500,4 1604,4 1613,19.5 1604,35 1500,35"/>
<polygon class="a8" points="1631,4 1646,4 1655,19.5 1646,35 1631,35"/>
<polygon class="a6" points="1656,4 1755,4 1764,19.5 1755,35 1656,35"/>
<polygon class="c3" points="1765,4 1884,4 1893,19.5 1884,35 1765,35"/>
<polygon class="n3" points="1902,4 1950,4 1959,19.5 1950,35 1902,35"/>
<polygon class="n5" points="2012,71.5 2021,56 2289,56 2289,87 2021,87"/>
<polygon class="n4" points="2298,71.5 2307,56 2516,56 2516,87 2307,87"/>
<polygon class="nl" points="2518,71.5 2527,56 2563,56 2563,87 2527,87"/>
<polygon class="n6" points="2578,4 2653,4 2662,19.5 2653,35 2578,35"/>
<polygon class="cb" points="2663,4 2837,4 2846,19.5 2837,35 2663,35"/>
<polygon class="n1" points="2858,71.5 2867,56 3010,56 3010,87 2867,87"/>
<polygon class="n2" points="3365,4 3523,4 3532,19.5 3523,35 3365,35"/>
<path class="bk" d="M1251,91H3554"/>
</g>
<g transform="translate(0,1866)">
<rect class="pu" x="1251" y="0" width="2303" height="37"/>
<use href="#s5" fill="#fff" filter="url(#jag)" clip-path="url(#cb)"/>
<use href="#s5" fill="#00922F" filter="url(#jag)" clip-path="url(#ca)"/>
<path class="bl" d="M1251,0H3554"/>
<path class="bk" d="M1251,40H3554"/><path class="gy" d="M1251,42.8H3554"/>
</g>
</g>

<g id="n-minae">
<text class="sp" x="744" y="2192">M. inae</text>
<g>
<text class="gl" x="1366" y="2028">COX1</text><text class="gl" x="1555" y="2028">COX3</text><text class="gl" x="1643" y="2028">ND3</text><text class="gl" x="1700" y="1965">ND4L</text><text class="gl" x="2074" y="2028">ND5</text><text class="gl" x="2248" y="2028">ND6</text><text class="gl" x="2371" y="2028">CYTB</text><text class="gl" x="2636" y="2028">COX2</text><text class="gl" x="2705" y="1965">ATP8</text><text class="gl" x="2767" y="2028">ATP6</text><text class="gl" x="2929" y="2028">ND4</text><text class="gl" x="3120" y="2028">ND1</text><text class="gl" x="3473" y="2028">ND2</text>
</g>
<path class="ll" d="M1366,2032V2098M1555,2032V2098M1643,2032V2098M1700,1969V2098M2074,2032V2098M2248,2032V2098M2371,2032V2098M2636,2032V2098M2705,1969V2098M2767,2032V2098M2929,2032V2098M3120,2032V2098M3473,2032V2098"/>
<rect x="1249.75" y="2102" width="2285.5" height="16" fill="url(#r6)"/>
<rect x="1248.5" y="2099" width="5" height="19"/>
<g transform="translate(0,2127)">
<path class="bk" d="M1251,0H3555"/><path class="gy" d="M1251,2.8H3555"/>
<rect class="lb" x="1251" y="39" width="2304" height="14"/><rect class="db" x="1251" y="41.5" width="2304" height="9"/>
<polygon class="c1" points="1251,4 1472,4 1481,19.5 1472,35 1251,35"/>
<polygon class="c2" points="1496,4 1605,4 1614,19.5 1605,35 1496,35"/>
<polygon class="n3" points="1615,4 1662,4 1671,19.5 1662,35 1615,35"/>
<polygon class="nl" points="1680,71.5 1689,56 1721,56 1721,87 1689,87"/>
<polygon class="n5" points="1944,71.5 1953,56 2204,56 2204,87 1953,87"/>
<polygon class="n6" points="2211,4 2278,4 2287,19.5 2278,35 2211,35"/>
<polygon class="cb" points="2288,4 2445,4 2454,19.5 2445,35 2288,35"/>
<polygon class="c2" points="2585,4 2679,4 2688,19.5 2679,35 2585,35"/>
<polygon class="a8" points="2694,4 2707,4 2716,19.5 2707,35 2694,35"/>
<polygon class="a6" points="2717,4 2809,4 2818,19.5 2809,35 2717,35"/>
<polygon class="n4" points="2830,71.5 2839,56 3029,56 3029,87 2839,87"/>
<polygon class="n1" points="3050,71.5 3059,56 3189,56 3189,87 3059,87"/>
<polygon class="n2" points="3397,4 3540,4 3549,19.5 3540,35 3397,35"/>
<path class="bk" d="M1251,91H3555"/>
</g>
<g transform="translate(0,2260)">
<rect class="pu" x="1251" y="0" width="2304" height="25"/>
<use href="#s6" fill="#fff" filter="url(#jag)" clip-path="url(#cb)"/>
<use href="#s6" fill="#00922F" filter="url(#jag)" clip-path="url(#ca)"/>
<path class="bl" d="M1251,0H3555"/>
<path class="bk" d="M1251,28H3555"/><path class="gy" d="M1251,30.8H3555"/>
</g>
</g>

<g id="n-ocinctipes">
<text class="sp" x="748" y="2564">O. cinctipes</text>
<g>
<text class="gl" x="1384" y="2388">COX1</text><text class="gl" x="1570" y="2388">COX2</text><text class="gl" x="1655" y="2359">ATP8</text><text class="gl" x="1725" y="2388">ATP6</text><text class="gl" x="1846" y="2388">COX3</text><text class="gl" x="1958" y="2388">ND3</text><text class="gl" x="2159" y="2388">ND5</text><text class="gl" x="2426" y="2388">ND4</text><text class="gl" x="2559" y="2388">ND4L</text><text class="gl" x="2642" y="2388">ND6</text><text class="gl" x="2777" y="2388">CYTB</text><text class="gl" x="2958" y="2388">ND1</text><text class="gl" x="3455" y="2388">ND2</text>
</g>
<path class="ll" d="M1384,2392V2448M1570,2392V2448M1655,2363V2448M1725,2392V2448M1846,2392V2448M1958,2392V2448M2159,2392V2448M2426,2392V2448M2559,2392V2448M2642,2392V2448M2777,2392V2448M2958,2392V2448M3455,2392V2448"/>
<rect x="1254.75" y="2448" width="2288.5" height="16" fill="url(#r7)"/>
<rect x="1253.5" y="2445" width="5" height="19"/>
<g transform="translate(0,2473)">
<path class="bk" d="M1256,0H3550"/><path class="gy" d="M1256,2.8H3550"/>
<rect class="lb" x="1256" y="39" width="2294" height="14"/><rect class="db" x="1256" y="41.5" width="2294" height="9"/>
<polygon class="c1" points="1256,4 1502,4 1511,19.5 1502,35 1256,35"/>
<polygon class="c2" points="1515,4 1617,4 1626,19.5 1617,35 1515,35"/>
<polygon class="a8" points="1642,4 1657,4 1666,19.5 1657,35 1642,35"/>
<polygon class="a6" points="1667,4 1769,4 1778,19.5 1769,35 1667,35"/>
<polygon class="c2" points="1779,4 1902,4 1911,19.5 1902,35 1779,35"/>
<polygon class="n3" points="1931,4 1973,4 1982,19.5 1973,35 1931,35"/>
<polygon class="n5" points="2020,71.5 2029,56 2301,56 2301,87 2029,87"/>
<polygon class="n4" points="2314,71.5 2323,56 2532,56 2532,87 2323,87"/>
<polygon class="nl" points="2534,71.5 2543,56 2581,56 2581,87 2543,87"/>
<polygon class="n6" points="2600,4 2671,4 2680,19.5 2671,35 2600,35"/>
<polygon class="cb" points="2681,4 2861,4 2870,19.5 2861,35 2681,35"/>
<polygon class="n1" points="2881,71.5 2890,56 3037,56 3037,87 2890,87"/>
<polygon class="n2" points="3371,4 3529,4 3538,19.5 3529,35 3371,35"/>
<path class="bk" d="M1256,91H3550"/>
</g>
<g transform="translate(0,2600)">
<rect class="pu" x="1256" y="0" width="2294" height="33"/>
<use href="#s7" fill="#fff" filter="url(#jag)" clip-path="url(#cb)"/>
<use href="#s7" fill="#00922F" filter="url(#jag)" clip-path="url(#ca)"/>
<path class="bl" d="M1256,0H3550"/>
<path class="bk" d="M1256,36H3550"/><path class="gy" d="M1256,38.8H3550"/>
</g>
</g>

<g id="n-ebiolleyi">
<text class="sp" x="759" y="2945">E. biolleyi</text>
<g>
<text class="gl" x="1374" y="2782">COX1</text><text class="gl" x="1551" y="2782">COX2</text><text class="gl" x="1625" y="2709">ATP8</text><text class="gl" x="1690" y="2782">ATP6</text><text class="gl" x="1807" y="2782">COX3</text><text class="gl" x="1897" y="2782">ND3</text><text class="gl" x="2032" y="2782">CYTB</text><text class="gl" x="2197" y="2782">ND1</text><text class="gl" x="2436" y="2782">ND5</text><text class="gl" x="2774" y="2782">ND6</text><text class="gl" x="3126" y="2782">ND4L</text><text class="gl" x="3258" y="2782">ND4</text><text class="gl" x="3476" y="2782">ND2</text>
</g>
<path class="ll" d="M1374,2786V2850M1551,2786V2850M1625,2713V2850M1690,2786V2850M1807,2786V2850M1897,2786V2850M2032,2786V2850M2197,2786V2850M2436,2786V2850M2774,2786V2850M3126,2786V2850M3258,2786V2850M3476,2786V2850"/>
<rect x="1251.75" y="2855" width="2303.5" height="16" fill="url(#r8)"/>
<rect x="1250.5" y="2852" width="5" height="19"/>
<g transform="translate(0,2880)">
<path class="bk" d="M1253,0H3553"/><path class="gy" d="M1253,2.8H3553"/>
<rect class="lb" x="1253" y="39" width="2300" height="14"/><rect class="db" x="1253" y="41.5" width="2300" height="9"/>
<polygon class="c1" points="1253,4 1487,4 1496,19.5 1487,35 1253,35"/>
<polygon class="c2" points="1497,4 1595,4 1604,19.5 1595,35 1497,35"/>
<polygon class="a8" points="1611,4 1627,4 1636,19.5 1627,35 1611,35"/>
<polygon class="a6" points="1637,4 1736,4 1745,19.5 1736,35 1637,35"/>
<polygon class="c2" points="1746,4 1860,4 1869,19.5 1860,35 1746,35"/>
<polygon class="n3" points="1870,4 1917,4 1926,19.5 1917,35 1870,35"/>
<polygon class="cb" points="1941,71.5 1950,56 2121,56 2121,87 1950,87"/>
<polygon class="n1" points="2123,71.5 2132,56 2271,56 2271,87 2132,87"/>
<polygon class="n5" points="2301,4 2560,4 2569,19.5 2560,35 2301,35"/>
<polygon class="n6" points="2733,71.5 2742,56 2814,56 2814,87 2742,87"/>
<polygon class="nl" points="3103,4 3140,4 3149,19.5 3140,35 3103,35"/>
<polygon class="n4" points="3150,4 3358,4 3367,19.5 3358,35 3150,35"/>
<polygon class="n2" points="3396,4 3547,4 3556,19.5 3547,35 3396,35"/>
<path class="bk" d="M1253,91H3553"/>
</g>
<g transform="translate(0,3035)">
<rect class="pu" x="1253" y="0" width="2300" height="3"/>
<use href="#s8" fill="#fff" filter="url(#jag)" clip-path="url(#cb)"/>
<use href="#s8" fill="#00922F" filter="url(#jag)" clip-path="url(#ca)"/>
<path class="bk" d="M1253,6H3553"/><path class="gy" d="M1253,8.8H3553"/>
</g>
</g>

<g id="n-osp">
<text class="sp" x="756" y="3318">O. sp. DVL-2011</text>
<g>
<text class="gl" x="1377" y="3141">COX1</text><text class="gl" x="1552" y="3141">COX2</text><text class="gl" x="1626" y="3111">ATP8</text><text class="gl" x="1692" y="3141">ATP6</text><text class="gl" x="1808" y="3141">COX3</text><text class="gl" x="1897" y="3141">ND3</text><text class="gl" x="2031" y="3141">CYTB</text><text class="gl" x="2194" y="3141">ND1</text><text class="gl" x="2427" y="3141">ND5</text><text class="gl" x="2798" y="3141">ND6</text><text class="gl" x="3128" y="3141">ND4L</text><text class="gl" x="3256" y="3141">ND4</text><text class="gl" x="3471" y="3141">ND2</text>
</g>
<path class="ll" d="M1377,3145V3202M1552,3145V3202M1626,3115V3202M1692,3145V3202M1808,3145V3202M1897,3145V3202M2031,3145V3202M2194,3145V3202M2427,3145V3202M2798,3145V3202M3128,3145V3202M3256,3145V3202M3471,3145V3202"/>
<rect x="1254.75" y="3221" width="2283.5" height="16" fill="url(#r9)"/>
<rect x="1253.5" y="3218" width="5" height="19"/>
<g transform="translate(0,3246)">
<path class="bk" d="M1256,0H3550"/><path class="gy" d="M1256,2.8H3550"/>
<rect class="lb" x="1256" y="39" width="2294" height="14"/><rect class="db" x="1256" y="41.5" width="2294" height="9"/>
<polygon class="c1" points="1256,4 1489,4 1498,19.5 1489,35 1256,35"/>
<polygon class="c2" points="1499,4 1596,4 1605,19.5 1596,35 1499,35"/>
<polygon class="a8" points="1613,4 1630,4 1639,19.5 1630,35 1613,35"/>
<polygon class="a6" points="1640,4 1736,4 1745,19.5 1736,35 1640,35"/>
<polygon class="c2" points="1746,4 1860,4 1869,19.5 1860,35 1746,35"/>
<polygon class="n3" points="1870,4 1916,4 1925,19.5 1916,35 1870,35"/>
<polygon class="cb" points="1941,71.5 1950,56 2119,56 2119,87 1950,87"/>
<polygon class="n1" points="2121,71.5 2130,56 2267,56 2267,87 2130,87"/>
<polygon class="n5" points="2291,4 2553,4 2562,19.5 2553,35 2291,35"/>
<polygon class="n6" points="2771,71.5 2780,56 2827,56 2827,87 2780,87"/>
<polygon class="nl" points="3103,4 3140,4 3149,19.5 3140,35 3103,35"/>
<polygon class="n4" points="3150,4 3355,4 3364,19.5 3355,35 3150,35"/>
<polygon class="n2" points="3393,4 3541,4 3550,19.5 3541,35 3393,35"/>
<path class="bk" d="M1256,91H3550"/>
</g>
<g transform="translate(0,3396)">
<rect class="pu" x="1256" y="0" width="2294" height="9"/>
<use href="#s9" fill="#fff" filter="url(#jag)" clip-path="url(#cb)"/>
<use href="#s9" fill="#00922F" filter="url(#jag)" clip-path="url(#ca)"/>
<path class="bk" d="M1256,12H3550"/><path class="gy" d="M1256,14.8H3550"/>
</g>
</g>

<g id="n-ebarbadensis">
<text class="sp spb" x="756" y="3692">E. barbadensis</text>
<g>
<text class="gl" x="1377" y="3507">COX1</text><text class="gl" x="1549" y="3507">COX2</text><text class="gl" x="1619" y="3478">ATP8</text><text class="gl" x="1684" y="3507">ATP6</text><text class="gl" x="1796" y="3507">COX3</text><text class="gl" x="1890" y="3507">ND3</text><text class="gl" x="2011" y="3507">CYTB</text><text class="gl" x="2173" y="3507">ND1</text><text class="gl" x="2442" y="3507">ND5</text><text class="gl" x="2808" y="3507">ND6</text><text class="gl" x="3141" y="3507">ND4l</text><text class="gl" x="3268" y="3507">ND4</text>
</g>
<path class="ll" d="M1377,3511V3570M1549,3511V3570M1619,3482V3570M1684,3511V3570M1796,3511V3570M1890,3511V3570M2011,3511V3570M2173,3511V3570M2442,3511V3570M2808,3511V3570M3141,3511V3570M3268,3511V3570"/>
<rect x="1255.75" y="3575" width="2288.5" height="16" fill="url(#r10)"/>
<rect x="1254.5" y="3572" width="5" height="19"/>
<g transform="translate(0,3600)">
<path class="bk" d="M1257,0H3553"/><path class="gy" d="M1257,2.8H3553"/>
<rect class="lb" x="1257" y="39" width="2296" height="14"/><rect class="db" x="1257" y="41.5" width="2296" height="9"/>
<polygon class="c1" points="1257,4 1487,4 1496,19.5 1487,35 1257,35"/>
<polygon class="c2" points="1497,4 1593,4 1602,19.5 1593,35 1497,35"/>
<polygon class="a8" points="1607,4 1622,4 1631,19.5 1622,35 1607,35"/>
<polygon class="a6" points="1632,4 1726,4 1735,19.5 1726,35 1632,35"/>
<polygon class="c2" points="1736,4 1848,4 1857,19.5 1848,35 1736,35"/>
<polygon class="n3" points="1863,4 1908,4 1917,19.5 1908,35 1863,35"/>
<polygon class="cb" points="1925,71.5 1934,56 2100,56 2100,87 1934,87"/>
<polygon class="n1" points="2102,71.5 2111,56 2244,56 2244,87 2111,87"/>
<polygon class="n5" points="2351,4 2525,4 2534,19.5 2525,35 2351,35"/>
<polygon class="n6" points="2771,71.5 2780,56 2846,56 2846,87 2780,87"/>
<polygon class="nl" points="3119,4 3152,4 3161,19.5 3152,35 3119,35"/>
<polygon class="n4" points="3162,4 3364,4 3373,19.5 3364,35 3162,35"/>
<polygon class="n2" points="3393,4 3541,4 3550,19.5 3541,35 3393,35"/>
<path class="bk" d="M1257,91H3553"/>
</g>
<g transform="translate(0,3739)">
<rect class="pu" x="1257" y="0" width="2296" height="21"/>
<use href="#s10" fill="#fff" filter="url(#jag)" clip-path="url(#cb)"/>
<use href="#s10" fill="#00922F" filter="url(#jag)" clip-path="url(#ca)"/>
<path class="bl" d="M1257,0H3553"/>
<path class="bk" d="M1257,24H3553"/><path class="gy" d="M1257,26.8H3553"/>
</g>
</g>
</svg>
